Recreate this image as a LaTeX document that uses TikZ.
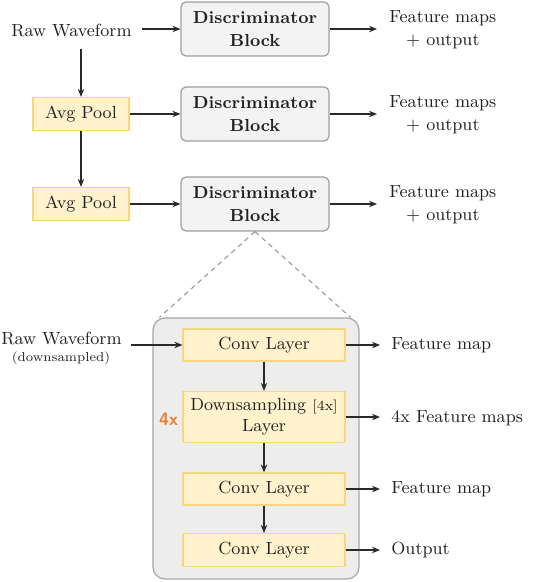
\documentclass[tikz,border=0pt]{standalone}
\usetikzlibrary{arrows.meta,calc}
\definecolor{txt}{HTML}{222222}
\definecolor{dfill}{HTML}{F3F3F3}
\definecolor{ddraw}{HTML}{9E9E9E}
\definecolor{yfill}{HTML}{FFF2CC}
\definecolor{ydraw}{HTML}{F7D67F}
\definecolor{cfill}{HTML}{EDEDED}
\definecolor{cdraw}{HTML}{A6A6A6}
\definecolor{orng}{HTML}{EE7D31}
\definecolor{ln}{HTML}{2A2A2A}
\definecolor{dsh}{HTML}{A0A0A0}
\begin{document}
\begin{tikzpicture}[x=0.5pt,y=-0.5pt,
  lab/.style={font=\fontsize{8.8}{11.5}\selectfont, text=txt, align=center, inner sep=0pt},
  discbox/.style={draw=ddraw, fill=dfill, rounded corners=2.5pt, minimum width=74pt,
    minimum height=27pt, align=center, font=\fontsize{8.7}{11.5}\selectfont\bfseries,
    text=txt, line width=0.6pt, inner sep=0pt},
  ybox/.style={draw=ydraw, fill=yfill, line width=0.6pt, inner sep=0pt, align=center,
    font=\fontsize{8.8}{10.5}\selectfont, text=txt},
  arr/.style={draw=ln, line width=0.6pt, -{Stealth[length=4pt,width=3.2pt]}},
  dline/.style={draw=dsh, line width=0.6pt, dash pattern=on 2.5pt off 2pt},
]
\useasboundingbox (0,0) rectangle (550,582);

% top section
\node[lab, anchor=east] (rw1) at (132,30) {Raw Waveform};
\node[discbox] (d1) at (255,29) {Discriminator\\Block};
\node[discbox] (d2) at (255,114) {Discriminator\\Block};
\node[discbox] (d3) at (255,204) {Discriminator\\Block};
\node[ybox, minimum width=48pt, minimum height=16.5pt] (ap1) at (81,114) {Avg Pool};
\node[ybox, minimum width=48pt, minimum height=16.5pt] (ap2) at (81,204) {Avg Pool};
\node[lab, anchor=west] (fm1) at (389,30) {Feature maps\\+ output};
\node[lab, anchor=west] (fm2) at (389,115) {Feature maps\\+ output};
\node[lab, anchor=west] (fm3) at (389,205) {Feature maps\\+ output};

\draw[arr] ([xshift=5pt]rw1.east |- d1.west) -- (d1.west);
\draw[arr] ([yshift=-6pt]rw1.south -| ap1.north) -- (ap1.north);
\draw[arr] (ap1.south) -- (ap2.north);
\draw[arr] (ap1.east) -- (d2.west);
\draw[arr] (ap2.east) -- (d3.west);
\draw[arr] (d1.east) -- ([xshift=-6pt]fm1.west |- d1.east);
\draw[arr] (d2.east) -- ([xshift=-6pt]fm2.west |- d2.east);
\draw[arr] (d3.east) -- ([xshift=-6pt]fm3.west |- d3.east);

% detail section
\node[draw=cdraw, fill=cfill, rounded corners=6pt, minimum width=103pt,
  minimum height=130.5pt, line width=0.6pt] (cont) at (256,448.5) {};
\draw[dline] (d3.south) -- ([xshift=3.5pt]cont.north west);
\draw[dline] (d3.south) -- ([xshift=-4.5pt]cont.north east);

\node[ybox, minimum width=81pt, minimum height=16pt] (c1) at (264,345) {Conv Layer};
\node[ybox, minimum width=81pt, minimum height=25.5pt] (dn) at (264,417)
  {Downsampling {\fontsize{7}{8}\selectfont[4x]}\\Layer};
\node[ybox, minimum width=81pt, minimum height=16pt] (c2) at (264,489) {Conv Layer};
\node[ybox, minimum width=81pt, minimum height=16.5pt] (c3) at (264,550) {Conv Layer};

\node[font=\sffamily\bfseries\fontsize{9}{10}\selectfont, text=orng, anchor=east,
  inner sep=0pt] (fx) at ([xshift=-2pt,yshift=-1pt]dn.west) {4x};

\node[lab, anchor=east] (rw2) at (122,338) {Raw Waveform};
\node[lab, font=\fontsize{6.5}{8}\selectfont] (ds) at (61,358) {(downsampled)};

\node[lab, anchor=west] (o1) at (391,345) {Feature map};
\node[lab, anchor=west] (o2) at (391,418) {4x Feature maps};
\node[lab, anchor=west] (o3) at (391,489) {Feature map};
\node[lab, anchor=west] (o4) at (391,550) {Output};

\draw[arr] ([xshift=4.5pt]rw2.east |- c1.west) -- (c1.west);
\draw[arr] (c1.south) -- (dn.north);
\draw[arr] (dn.south) -- (c2.north);
\draw[arr] (c2.south) -- (c3.north);
\draw[arr] (c1.east) -- ([xshift=-5.5pt]o1.west |- c1.east);
\draw[arr] (dn.east) -- ([xshift=-5.5pt]o2.west |- dn.east);
\draw[arr] (c2.east) -- ([xshift=-5.5pt]o3.west |- c2.east);
\draw[arr] (c3.east) -- ([xshift=-5.5pt]o4.west |- c3.east);
\end{tikzpicture}
\end{document}
